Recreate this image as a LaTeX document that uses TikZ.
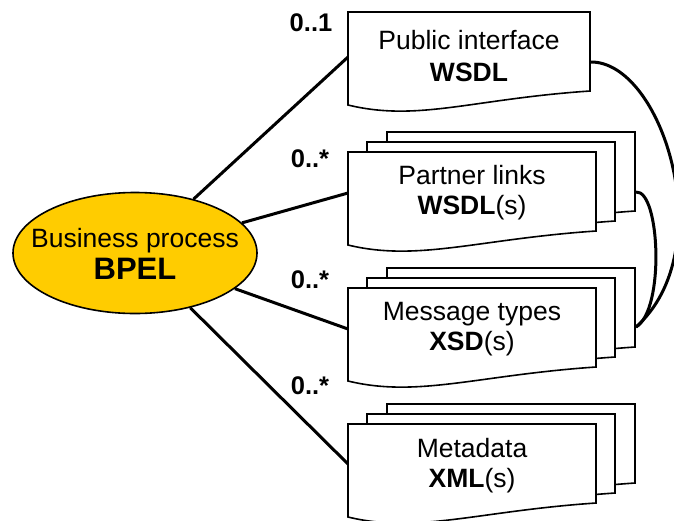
\documentclass[tikz,border=0pt]{standalone}
\usepackage{fontspec}
\setmainfont{Liberation Sans}
\usetikzlibrary{shapes.geometric}
\definecolor{bpelgold}{RGB}{255,204,0}
\tikzset{
  docline/.style={draw=black, line width=1.6pt, fill=white, line join=miter},
  link/.style={draw=black, line width=3pt},
  doctext/.style={align=center, font=\fontsize{26.5}{30}\selectfont, inner sep=0pt},
  mult/.style={font=\fontsize{25.5}{30}\selectfont\bfseries, inner sep=0pt},
  process/.style={ellipse, draw=black, line width=1.6pt, fill=bpelgold,
    minimum width=244pt, minimum height=121pt, inner sep=0pt},
  processtext/.style={align=center, inner sep=0pt,
    font=\fontsize{26.5}{34}\selectfont},
}
% one sheet with a wavy lower edge: left, top, width
\newcommand\docsheet[3]{%
  \draw[docline] ({#1},{#2}) -- ({#1+#3},{#2}) -- ({#1+#3},{#2+79})
    .. controls ({#1+#3-118},{#2+87}) and ({#1+70},{#2+110}) .. ({#1},{#2+93}) -- cycle;}
% three stacked sheets: left, top of the front sheet
\newcommand\docstack[2]{%
  \docsheet{#1+39}{#2-20}{248}%
  \docsheet{#1+19}{#2-10}{248}%
  \docsheet{#1}{#2}{248}}
\begin{document}
\begin{tikzpicture}[x=1pt,y=-1pt]
  \useasboundingbox (0,0) rectangle (674,520);

  % central process
  \node[process] (bp) at (135,253) {};
  \node[processtext] (bptext) at (135,254)
    {Business process\\[-2pt]{\fontsize{31}{34}\selectfont\bfseries BPEL}};

  % attachment points on the documents
  \coordinate (d1in) at (348,57);
  \coordinate (d2in) at (348,193);
  \coordinate (d3in) at (348,329);
  \coordinate (d4in) at (348,464);
  \coordinate (d1out) at (590,62);
  \coordinate (d2out) at (636,192);
  \coordinate (d3out) at (636,327);

  % links from the process to its documents
  \draw[link] (bp) -- (d1in);
  \draw[link] (bp) -- (d2in);
  \draw[link] (bp) -- (d3in);
  \draw[link] (bp) -- (d4in);

  % references between the documents
  \draw[link] (d1out) .. controls (662,60) and (722,250) .. (d3out);
  \draw[link] (d2out) .. controls (660,190) and (665,310) .. (d3out);

  % documents
  \docsheet{348}{12}{242}
  \docstack{348}{152}
  \docstack{348}{288}
  \docstack{348}{424}

  \node[doctext] (t1) at (469,56) {Public interface\\[2pt]\textbf{WSDL}};
  \node[doctext] (t2) at (472,193) {Partner links\\\textbf{WSDL}(s)};
  \node[doctext] (t3) at (472,329) {Message types\\\textbf{XSD}(s)};
  \node[doctext] (t4) at (472,466) {Metadata\\\textbf{XML}(s)};

  % multiplicities
  \node[mult] (m1) at (311,23) {0..1};
  \node[mult] (m2) at (310,159) {0..*};
  \node[mult] (m3) at (310,280) {0..*};
  \node[mult] (m4) at (310,386) {0..*};
\end{tikzpicture}
\end{document}
